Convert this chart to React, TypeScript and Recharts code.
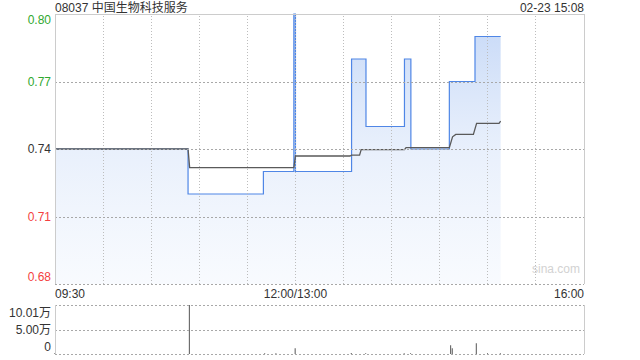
import React from "react";
import {
  Area,
  Bar,
  ComposedChart,
  Line,
  ReferenceLine,
  XAxis,
  YAxis,
} from "recharts";

// minutes from 09:30, lunch break squeezed out (150 = 12:00/13:00, 330 = 16:00)
const priceTimes = [0, 83, 130, 149, 150, 185, 194, 218, 222, 246, 262, 278];
const priceValues = [0.74, 0.72, 0.73, 0.8, 0.73, 0.78, 0.75, 0.78, 0.74, 0.77, 0.79, 0.79];

const avgTimes = [0, 83, 84, 149, 150, 184, 185, 190, 191, 218, 219, 246, 248, 250, 261, 263, 277, 278];
const avgValues = [
  0.74, 0.74, 0.7317, 0.7317, 0.7369, 0.7369, 0.7373, 0.7373, 0.7397, 0.7397, 0.7406, 0.7406,
  0.7454, 0.7465, 0.7465, 0.7514, 0.7514, 0.7524,
];

const volTimes = [0, 84, 131, 138, 150, 185, 194, 218, 222, 247, 248, 263, 270, 278];
const volValues = [1500, 100100, 1500, 1500, 12000, 2000, 1500, 1500, 1500, 18000, 12000, 22000, 1500, 1500];

const basePrice = 0.74;
const priceTicks = [0.68, 0.71, 0.74, 0.77, 0.8];
const volTicks = [0, 50000, 100100];
const volTickLabels = ["0", "5.00万", "10.01万"];
const gridTimes = [0, 30, 60, 90, 120, 150, 180, 210, 240, 270, 300, 330];
const xLabelTimes = [0, 150, 330];
const xLabelTexts = ["09:30", "12:00/13:00", "16:00"];

const title = "08037 中国生物科技服务";
const stamp = "02-23 15:08";

const GREEN = "#2fa82f";
const RED = "#f43f3f";
const GRID = "#bdbdbd";
const GRID_ROW = "#a8a8a8";
const FONT = "'Liberation Sans', Arial, 'Noto Sans CJK SC', sans-serif";

// plot box edges (layout only)
const PLOT_LEFT = 55;
const PLOT_RIGHT = 584;

const priceData = priceTimes.map((t, i) => ({ t, price: priceValues[i] }));
const avgData = avgTimes.map((t, i) => ({ t, avg: avgValues[i] }));
const volData = volTimes.map((t, i) => ({ t, vol: volValues[i] }));

function tickColor(v: number) {
  if (v > basePrice + 1e-6) return GREEN;
  if (v < basePrice - 1e-6) return RED;
  return "#333";
}

function edgeShift(v: number) {
  if (Math.abs(v - priceTicks[priceTicks.length - 1]) < 1e-6) return 6;
  if (Math.abs(v - priceTicks[0]) < 1e-6) return -7;
  return 0;
}

// dotted horizontal grid line drawn at the tick's scaled y
const gridRow = (y: number) => (
  <line
    x1={PLOT_LEFT}
    x2={PLOT_RIGHT}
    y1={Math.round(y) + 0.5}
    y2={Math.round(y) + 0.5}
    stroke={GRID_ROW}
    strokeWidth={1}
    strokeDasharray="2 2"
  />
);

const PriceTick = (props: any) => {
  const { x, y, payload } = props;
  const v = payload.value as number;
  return (
    <g>
      {gridRow(y)}
      <text x={x} y={y + edgeShift(v)} textAnchor="end" dominantBaseline="central" fill={tickColor(v)} fontSize={12}>
        {v.toFixed(2)}
      </text>
    </g>
  );
};

const PctTick = (props: any) => {
  const { x, y, payload } = props;
  const v = payload.value as number;
  const pct = (v / basePrice - 1) * 100;
  const label = (pct > 0.001 ? "+" : "") + pct.toFixed(2) + "%";
  return (
    <text x={x} y={y + edgeShift(v)} textAnchor="start" dominantBaseline="central" fill={tickColor(v)} fontSize={12}>
      {label}
    </text>
  );
};

const TimeTick = (props: any) => {
  const { x, y, payload } = props;
  const i = xLabelTimes.indexOf(payload.value);
  if (i < 0) return <g />;
  const anchor = i === 0 ? "start" : i === xLabelTimes.length - 1 ? "end" : "middle";
  return (
    <text x={x} y={y + 10} textAnchor={anchor} dominantBaseline="central" fill="#333" fontSize={12}>
      {xLabelTexts[i]}
    </text>
  );
};

const VolTick = (props: any) => {
  const { x, y, payload } = props;
  const i = volTicks.indexOf(payload.value);
  const shift = i === volTicks.length - 1 ? 8 : i === 0 ? -7 : 0;
  return (
    <g>
      {gridRow(y)}
      <text x={x} y={y + shift} textAnchor="end" dominantBaseline="central" fill="#333" fontSize={12}>
        {volTickLabels[i]}
      </text>
    </g>
  );
};

export default function App() {
  return (
    <div style={{ position: "absolute", left: 0, top: 0, width: 640, height: 360, background: "#fff", fontFamily: FONT }}>
      <div style={{ position: "absolute", left: 55, top: 0, fontSize: 12, lineHeight: "16px", color: "#333" }}>{title}</div>
      <div style={{ position: "absolute", right: 56, top: 0, fontSize: 12, lineHeight: "16px", color: "#333" }}>{stamp}</div>

      <div style={{ position: "absolute", left: 0, top: 0 }}>
        <ComposedChart width={640} height={300} margin={{ top: 14, right: 0, bottom: 0, left: 0 }}>
          <defs>
            <linearGradient id="priceFill" x1="0" y1="0" x2="0" y2="1">
              <stop offset="0%" stopColor="#5f93e8" stopOpacity={0.36} />
              <stop offset="50%" stopColor="#7aa5ec" stopOpacity={0.17} />
              <stop offset="100%" stopColor="#9dbdf2" stopOpacity={0.07} />
            </linearGradient>
          </defs>
          <XAxis
            dataKey="t"
            type="number"
            domain={[0, 330]}
            ticks={gridTimes}
            interval={0}
            tick={TimeTick}
            tickLine={false}
            axisLine={false}
            tickSize={0}
            tickMargin={0}
            height={16}
            allowDuplicatedCategory={false}
          />
          <YAxis
            yAxisId="price"
            domain={[0.68, 0.8]}
            ticks={priceTicks}
            interval={0}
            tick={PriceTick}
            tickLine={false}
            axisLine={false}
            tickSize={0}
            tickMargin={4}
            width={55}
          />
          <YAxis
            yAxisId="pct"
            orientation="right"
            domain={[0.68, 0.8]}
            ticks={priceTicks}
            interval={0}
            tick={PctTick}
            tickLine={false}
            axisLine={false}
            tickSize={0}
            tickMargin={6}
            width={56}
          />
          <Area
            yAxisId="price"
            data={priceData}
            dataKey="price"
            type="stepAfter"
            baseValue={0.68}
            stroke="#4f86e6"
            strokeWidth={1.2}
            fill="url(#priceFill)"
            fillOpacity={1}
            dot={false}
            activeDot={false}
            isAnimationActive={false}
          />
          {gridTimes.slice(1, -1).map((t) => (
            <ReferenceLine
              key={"vx" + t}
              yAxisId="price"
              x={t}
              stroke={GRID}
              strokeDasharray="1 2"
              shapeRendering="crispEdges"
            />
          ))}
          <Line
            yAxisId="price"
            data={avgData}
            dataKey="avg"
            type="linear"
            stroke="#5a5a5a"
            strokeWidth={1.3}
            dot={false}
            activeDot={false}
            isAnimationActive={false}
          />
        </ComposedChart>
      </div>
      <div
        style={{
          position: "absolute",
          left: 55,
          top: 14,
          width: 530,
          height: 270,
          boxSizing: "border-box",
          borderTop: "1px solid #cccccc",
          borderLeft: "1px solid #cccccc",
          borderRight: "1px solid #cccccc",
          pointerEvents: "none",
        }}
      />
      <div style={{ position: "absolute", left: 532, top: 262, fontSize: 12, color: "#d2d2d2" }}>sina.com</div>

      <div style={{ position: "absolute", left: 0, top: 296 }}>
        <ComposedChart
          width={640}
          height={64}
          data={volData}
          margin={{ top: 9, right: 56, bottom: 6, left: 0 }}
        >
          <XAxis dataKey="t" type="number" domain={[0, 330]} hide />
          <YAxis
            domain={[0, 100100]}
            ticks={volTicks}
            interval={0}
            tick={VolTick}
            tickLine={false}
            axisLine={false}
            tickSize={0}
            tickMargin={4}
            width={55}
          />
          <Bar dataKey="vol" fill="#555" barSize={1} isAnimationActive={false} />
        </ComposedChart>
      </div>
      <div
        style={{
          position: "absolute",
          left: 55,
          top: 305,
          width: 530,
          height: 49,
          boxSizing: "border-box",
          borderLeft: "1px solid #cccccc",
          borderRight: "1px solid #cccccc",
          pointerEvents: "none",
        }}
      />
    </div>
  );
}
